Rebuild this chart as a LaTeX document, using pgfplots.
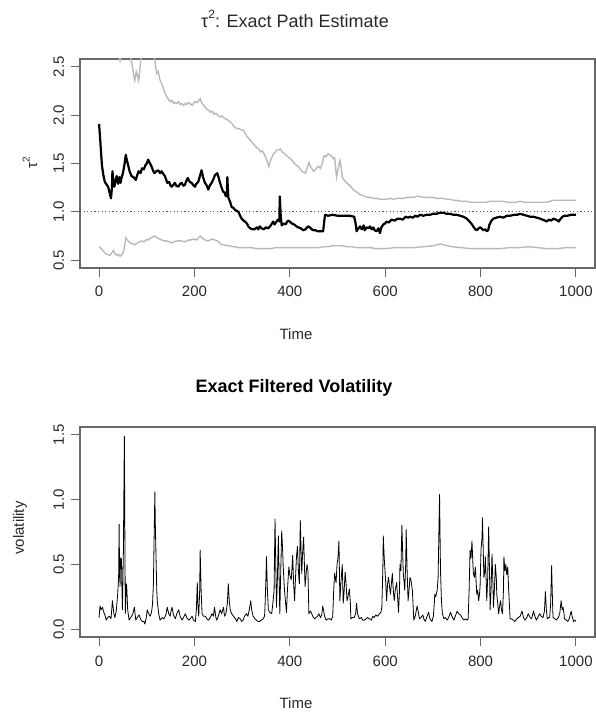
\documentclass[border=0pt]{standalone}
\usepackage{fontspec}
\setmainfont{Liberation Sans}
\usepackage{pgfplots}
\pgfplotsset{compat=1.18}
\definecolor{boxc}{RGB}{105,105,105}
\definecolor{bandc}{RGB}{185,185,185}
\definecolor{txt}{RGB}{40,40,40}
\definecolor{dotc}{RGB}{90,90,90}

\pgfplotstableread{
t v
0 1.91
3 1.70
6 1.48
9 1.38
12 1.31
16 1.28
19 1.26
22 1.20
25 1.14
27 1.25
28 1.42
30 1.32
32 1.26
35 1.33
37 1.37
40 1.29
43 1.36
45 1.30
47 1.35
50 1.40
53 1.48
56 1.59
58 1.54
61 1.48
64 1.42
68 1.37
72 1.36
77 1.33
80 1.38
83 1.42
87 1.40
90 1.45
94 1.44
97 1.48
100 1.50
103 1.54
107 1.50
110 1.47
113 1.43
116 1.40
120 1.42
124 1.43
128 1.40
131 1.42
135 1.39
138 1.37
141 1.33
143 1.30
147 1.31
150 1.27
152 1.26
156 1.28
159 1.30
162 1.27
166 1.26
170 1.29
173 1.30
177 1.27
180 1.28
183 1.32
186 1.35
190 1.31
194 1.30
197 1.28
201 1.26
204 1.29
208 1.31
212 1.38
215 1.43
218 1.36
222 1.30
226 1.27
229 1.23
232 1.27
236 1.30
240 1.34
243 1.38
248 1.40
251 1.35
253 1.31
257 1.25
260 1.21
263 1.20
266 1.16
268 1.20
269 1.36
270 1.25
271 1.15
275 1.10
278 1.05
282 1.04
285 1.02
289 1.01
292 1.00
296 0.96
299 0.93
303 0.91
306 0.90
310 0.88
313 0.85
317 0.83
322 0.82
326 0.82
331 0.84
334 0.82
337 0.85
341 0.83
345 0.82
350 0.84
355 0.83
360 0.86
365 0.90
368 0.87
372 0.90
375 0.92
378 0.90
379 1.16
381 0.95
383 0.86
387 0.88
391 0.87
396 0.91
400 0.90
404 0.88
409 0.87
414 0.85
418 0.84
423 0.83
428 0.81
433 0.82
438 0.85
442 0.84
446 0.82
449 0.81
454 0.81
458 0.80
463 0.80
470 0.80
472 0.90
474 0.97
480 0.96
490 0.97
500 0.96
512 0.96
525 0.96
535 0.95
538 0.88
540 0.80
544 0.83
547 0.85
551 0.82
555 0.86
557 0.81
561 0.84
565 0.83
568 0.85
572 0.82
575 0.84
578 0.81
582 0.80
586 0.83
589 0.78
592 0.84
596 0.87
600 0.88
603 0.90
608 0.89
613 0.92
620 0.91
626 0.93
631 0.93
637 0.92
643 0.95
648 0.94
652 0.95
658 0.94
663 0.96
668 0.95
673 0.97
680 0.96
687 0.97
694 0.97
700 0.98
707 0.98
715 0.99
722 0.99
729 0.98
736 0.98
743 0.97
750 0.97
757 0.96
764 0.95
771 0.93
777 0.90
782 0.87
786 0.84
789 0.82
792 0.81
796 0.83
799 0.84
802 0.83
806 0.81
810 0.82
813 0.80
816 0.81
818 0.86
820 0.88
823 0.91
827 0.93
833 0.94
841 0.95
848 0.94
855 0.96
862 0.96
870 0.97
877 0.97
883 0.98
890 0.97
897 0.96
904 0.95
911 0.95
918 0.94
925 0.93
930 0.92
935 0.91
939 0.90
943 0.92
948 0.91
953 0.93
958 0.92
962 0.91
964 0.90
968 0.93
972 0.95
975 0.96
982 0.96
990 0.97
1000 0.97
}\mainpath

\pgfplotstableread{
t v
0 3.9
10 3.5
20 3.2
30 3.0
38 2.75
42 2.6
44 2.56
47 2.62
52 2.8
60 2.75
66 2.6
70 2.50
73 2.40
75 2.36
78 2.45
80 2.42
83 2.36
86 2.5
88 2.6
95 2.8
105 2.75
112 2.66
117 2.57
119 2.49
121 2.43
124 2.45
128 2.36
132 2.32
136 2.26
139 2.22
143 2.18
146 2.16
149 2.14
153 2.15
156 2.12
160 2.13
163 2.12
167 2.14
170 2.11
174 2.12
177 2.10
181 2.12
184 2.11
187 2.13
191 2.12
195 2.10
198 2.12
202 2.14
206 2.13
209 2.15
212 2.17
215 2.13
219 2.10
223 2.08
226 2.06
230 2.05
233 2.03
237 2.04
241 2.01
245 2.02
249 2.00
254 1.98
258 1.99
262 1.97
266 1.96
270 1.95
275 1.93
279 1.91
283 1.88
286 1.87
289 1.86
293 1.86
298 1.85
303 1.84
307 1.81
310 1.78
314 1.76
317 1.74
321 1.72
324 1.70
328 1.68
331 1.66
335 1.65
338 1.62
342 1.63
345 1.61
349 1.57
353 1.52
356 1.47
359 1.52
362 1.56
366 1.60
370 1.62
373 1.64
377 1.64
380 1.65
384 1.62
387 1.61
391 1.59
394 1.58
398 1.56
401 1.55
405 1.53
408 1.51
412 1.49
415 1.48
419 1.46
422 1.44
426 1.42
429 1.41
433 1.40
436 1.45
440 1.51
443 1.47
447 1.44
450 1.42
454 1.44
457 1.46
461 1.47
464 1.45
468 1.50
472 1.58
476 1.57
480 1.60
484 1.59
487 1.58
491 1.55
494 1.56
498 1.36
501 1.44
505 1.53
508 1.45
510 1.36
514 1.33
519 1.30
524 1.28
528 1.26
533 1.23
538 1.21
542 1.20
547 1.18
552 1.17
557 1.16
562 1.15
568 1.15
575 1.14
582 1.14
589 1.13
596 1.13
603 1.13
610 1.14
617 1.13
624 1.14
631 1.14
638 1.14
645 1.15
652 1.15
659 1.15
666 1.16
673 1.16
680 1.15
687 1.15
694 1.15
701 1.15
708 1.14
715 1.14
722 1.14
729 1.13
736 1.13
743 1.12
750 1.12
757 1.11
764 1.11
771 1.11
778 1.10
785 1.10
792 1.10
799 1.10
806 1.10
813 1.10
820 1.11
827 1.11
834 1.11
841 1.11
848 1.11
855 1.10
862 1.10
869 1.10
876 1.10
883 1.11
890 1.10
897 1.10
904 1.10
911 1.10
918 1.10
925 1.10
932 1.10
939 1.10
946 1.11
953 1.12
960 1.12
967 1.12
974 1.12
981 1.12
988 1.12
1000 1.12
}\upperband

\pgfplotstableread{
t v
0 0.64
4 0.62
8 0.60
13 0.57
18 0.56
23 0.55
27 0.58
30 0.60
33 0.57
37 0.55
41 0.56
44 0.54
48 0.56
51 0.59
54 0.66
56 0.73
59 0.71
61 0.70
65 0.68
70 0.67
75 0.66
80 0.68
85 0.69
89 0.70
94 0.69
98 0.71
103 0.71
108 0.73
113 0.74
117 0.75
122 0.73
127 0.72
131 0.71
136 0.70
141 0.70
147 0.69
152 0.68
157 0.69
163 0.70
168 0.70
173 0.70
178 0.69
184 0.70
189 0.71
194 0.71
199 0.72
204 0.71
208 0.73
212 0.75
216 0.73
222 0.71
228 0.70
233 0.71
238 0.72
243 0.71
248 0.70
253 0.68
257 0.66
262 0.66
268 0.65
274 0.65
280 0.64
285 0.64
292 0.63
300 0.63
310 0.63
320 0.63
330 0.62
340 0.62
350 0.62
360 0.62
370 0.63
380 0.63
390 0.63
400 0.63
410 0.63
420 0.63
430 0.63
440 0.63
450 0.63
460 0.63
470 0.64
480 0.64
490 0.65
500 0.65
510 0.65
520 0.64
530 0.64
540 0.63
550 0.63
560 0.63
570 0.63
580 0.62
590 0.62
600 0.62
620 0.63
640 0.63
660 0.63
680 0.64
700 0.65
710 0.66
715 0.67
722 0.66
730 0.65
740 0.64
760 0.63
780 0.62
800 0.62
820 0.62
840 0.62
860 0.63
880 0.63
900 0.64
920 0.63
940 0.62
960 0.62
980 0.63
1000 0.63
}\lowerband

\pgfplotstableread{
t v
0 0.09
2 0.18
4 0.15
7 0.17
10 0.13
13 0.10
15 0.07
18 0.09
22 0.10
25 0.08
28 0.22
31 0.12
33 0.09
36 0.14
39 0.27
41 0.40
42 0.81
43 0.45
44 0.33
45 0.55
47 0.54
48 0.30
49 0.15
51 0.60
53 1.49
54 0.80
55 0.12
57 0.35
58 0.33
60 0.15
63 0.07
66 0.09
68 0.10
71 0.12
74 0.17
77 0.07
80 0.09
84 0.11
88 0.07
91 0.06
94 0.06
96 0.04
99 0.09
101 0.15
104 0.12
107 0.10
110 0.13
112 0.19
114 0.35
115 0.61
117 1.06
118 0.80
119 0.63
121 0.30
122 0.22
125 0.12
128 0.07
132 0.09
136 0.08
140 0.11
143 0.17
146 0.12
149 0.10
151 0.14
153 0.17
156 0.11
160 0.08
163 0.12
167 0.15
170 0.10
174 0.07
177 0.09
181 0.12
184 0.09
188 0.07
191 0.08
195 0.10
198 0.07
202 0.06
204 0.15
206 0.36
207 0.20
209 0.10
211 0.30
212 0.61
214 0.30
216 0.12
219 0.10
223 0.10
226 0.08
230 0.07
233 0.09
237 0.12
240 0.10
242 0.17
245 0.09
247 0.07
250 0.10
254 0.15
257 0.12
261 0.17
263 0.10
266 0.12
269 0.20
271 0.35
273 0.22
275 0.15
278 0.12
282 0.10
286 0.08
289 0.06
292 0.09
296 0.08
299 0.06
302 0.07
305 0.10
309 0.12
312 0.10
315 0.15
318 0.22
320 0.15
323 0.10
327 0.08
330 0.07
333 0.06
337 0.06
340 0.07
344 0.08
347 0.10
348 0.17
350 0.40
351 0.56
353 0.30
355 0.15
358 0.13
362 0.12
365 0.22
367 0.30
369 0.85
371 0.40
372 0.17
374 0.40
376 0.72
378 0.30
379 0.12
381 0.45
383 0.76
385 0.60
386 0.50
388 0.35
390 0.25
393 0.13
395 0.30
398 0.48
400 0.42
403 0.38
405 0.50
406 0.57
408 0.35
410 0.22
412 0.40
414 0.56
416 0.64
418 0.45
420 0.35
422 0.84
424 0.55
425 0.43
427 0.60
429 0.71
431 0.45
432 0.33
434 0.42
436 0.50
438 0.45
440 0.12
443 0.14
445 0.13
448 0.10
452 0.08
455 0.09
458 0.10
461 0.12
464 0.09
467 0.11
469 0.18
471 0.14
473 0.10
476 0.07
480 0.08
484 0.08
487 0.07
490 0.10
492 0.30
494 0.43
496 0.38
497 0.36
499 0.50
501 0.55
503 0.68
505 0.22
507 0.35
510 0.50
512 0.20
514 0.30
516 0.44
518 0.35
520 0.22
522 0.25
525 0.31
527 0.20
528 0.08
531 0.09
535 0.09
538 0.12
540 0.20
542 0.12
546 0.08
550 0.09
553 0.07
556 0.07
560 0.08
563 0.09
567 0.08
571 0.07
574 0.10
577 0.09
580 0.11
584 0.10
588 0.12
591 0.13
593 0.17
595 0.45
596 0.72
598 0.55
600 0.43
602 0.30
603 0.22
605 0.35
607 0.40
609 0.33
611 0.27
613 0.35
615 0.43
617 0.30
619 0.22
621 0.30
624 0.36
626 0.25
628 0.13
630 0.30
631 0.50
633 0.45
635 0.80
637 0.55
638 0.43
640 0.35
641 0.30
643 0.50
644 0.77
646 0.45
648 0.22
650 0.30
652 0.40
654 0.38
657 0.30
659 0.15
660 0.07
663 0.10
667 0.18
670 0.12
672 0.08
675 0.09
679 0.11
681 0.08
684 0.06
687 0.09
691 0.13
694 0.08
698 0.06
701 0.10
703 0.20
704 0.27
706 0.25
709 0.30
711 0.40
714 1.04
716 0.45
718 0.22
720 0.12
723 0.08
726 0.09
730 0.07
733 0.09
737 0.13
740 0.10
744 0.07
747 0.10
751 0.14
754 0.12
758 0.11
761 0.09
765 0.07
769 0.08
772 0.07
774 0.08
776 0.30
778 0.61
780 0.55
782 0.68
784 0.50
785 0.43
787 0.40
789 0.48
791 0.35
792 0.27
794 0.30
796 0.22
798 0.28
799 0.33
801 0.62
803 0.70
804 0.86
806 0.55
807 0.40
809 0.45
810 0.56
812 0.35
813 0.22
815 0.40
817 0.79
819 0.40
820 0.15
822 0.30
824 0.58
826 0.35
827 0.17
829 0.30
831 0.50
833 0.40
834 0.27
836 0.20
838 0.12
840 0.18
842 0.22
844 0.15
846 0.12
848 0.30
849 0.56
851 0.45
853 0.50
855 0.42
857 0.48
859 0.30
862 0.08
865 0.08
869 0.07
872 0.06
876 0.08
879 0.09
883 0.10
887 0.14
890 0.09
893 0.07
897 0.09
900 0.12
904 0.09
907 0.08
911 0.14
914 0.10
917 0.07
920 0.09
924 0.12
927 0.10
931 0.09
934 0.14
936 0.29
938 0.15
940 0.08
943 0.09
945 0.09
947 0.20
949 0.49
951 0.20
952 0.09
956 0.08
959 0.07
963 0.09
966 0.12
969 0.22
971 0.15
973 0.17
975 0.12
976 0.08
980 0.07
983 0.06
986 0.08
990 0.14
992 0.10
995 0.06
998 0.07
1000 0.06
}\vol

\pgfplotsset{
  rstyle/.style={
    scale only axis, width=515pt,
    xmin=-40, xmax=1040,
    xtick={0,200,400,600,800,1000},
    xticklabels={0,200,400,600,800,1000},
    axis line style={draw=boxc, line width=1.2pt},
    tick style={draw=boxc, line width=1pt},
    tick align=outside, major tick length=9pt,
    tick pos=left,
    tick label style={font=\fontsize{15}{18}\selectfont, text=txt},
    xticklabel style={anchor=base, yshift=-20pt},
    yticklabel style={xshift=-7pt, rotate=90, anchor=base},
  }
}

\begin{document}
\begin{tikzpicture}[x=1pt,y=1pt]
\useasboundingbox (0,0) rectangle (596,713);

\begin{axis}[rstyle, at={(80pt,445pt)}, anchor=south west, height=209pt,
  ymin=0.42, ymax=2.58,
  ytick={0.5,1.0,1.5,2.0,2.5},
  yticklabels={0.5,1.0,1.5,2.0,2.5}]
  \addplot[no marks, bandc, line width=1.4pt] table[x=t,y=v] {\upperband};
  \addplot[no marks, bandc, line width=1.4pt] table[x=t,y=v] {\lowerband};
  \addplot[no marks, dotc, line width=1pt, dash pattern=on 1.2pt off 2.4pt] coordinates {(-40,1) (1040,1)};
  \addplot[no marks, black, line width=2.2pt, line join=round] table[x=t,y=v] {\mainpath};
\end{axis}

\begin{axis}[rstyle, at={(80pt,76pt)}, anchor=south west, height=210pt,
  ymin=-0.06, ymax=1.56,
  ytick={0,0.5,1.0,1.5},
  yticklabels={0.0,0.5,1.0,1.5}]
  \addplot[no marks, black, line width=0.8pt, line join=round] table[x=t,y=v] {\vol};
\end{axis}

\node[anchor=base, text=txt] at (295,685) {\fontsize{18}{20}\selectfont τ\raisebox{0.5em}{\fontsize{12}{12}\selectfont 2}: Exact Path Estimate};
\node[anchor=base, text=txt] at (296,373) {\fontsize{15}{18}\selectfont Time};
\node[rotate=90, anchor=center, text=txt] at (30,550) {\fontsize{15}{18}\selectfont τ\raisebox{0.5em}{\fontsize{10}{10}\selectfont 2}};
\node[anchor=base, text=black] at (294,320) {\fontsize{18}{20}\selectfont\bfseries Exact Filtered Volatility};
\node[anchor=base, text=txt] at (296,5) {\fontsize{15}{18}\selectfont Time};
\node[rotate=90, anchor=center, text=txt] at (20,185) {\fontsize{15}{18}\selectfont volatility};
\end{tikzpicture}
\end{document}
